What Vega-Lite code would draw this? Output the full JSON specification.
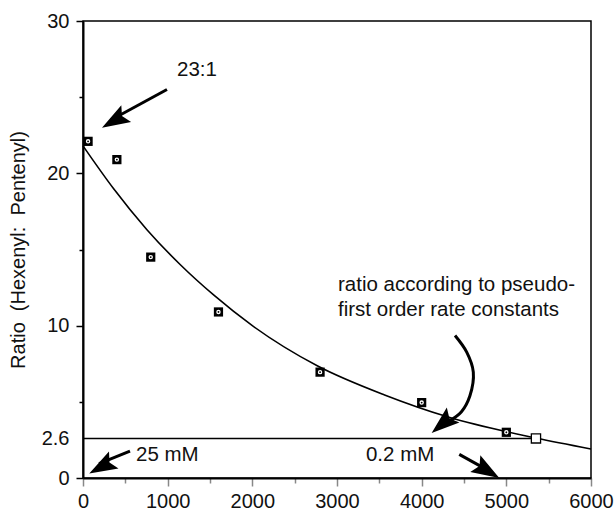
{
  "$schema": "https://vega.github.io/schema/vega-lite/v6.json",
  "width": 508,
  "height": 457,
  "autosize": {"type": "none"},
  "padding": {"left": 83, "top": 21, "right": 24, "bottom": 33},
  "background": "white",
  "config": {
    "font": "Liberation Sans",
    "view": {"stroke": "black", "strokeWidth": 1.5},
    "axis": {
      "domainColor": "black",
      "domainWidth": 2,
      "tickWidth": 1.5,
      "labelFont": "Liberation Sans",
      "labelFontSize": 20,
      "labelColor": "#111",
      "titleFont": "Liberation Sans",
      "titleFontSize": 20,
      "titleFontWeight": "normal",
      "titleColor": "#111",
      "grid": false
    }
  },
  "datasets": {
    "curve": [
      {"conc": 0, "ratio": 21.8},
      {"conc": 360, "ratio": 19.0},
      {"conc": 755, "ratio": 16.3},
      {"conc": 1150, "ratio": 14.0},
      {"conc": 1546, "ratio": 12.0},
      {"conc": 2000, "ratio": 10.0},
      {"conc": 2772, "ratio": 7.35},
      {"conc": 3562, "ratio": 5.45},
      {"conc": 4314, "ratio": 4.0},
      {"conc": 5350, "ratio": 2.62},
      {"conc": 6000, "ratio": 1.9}
    ],
    "measured": [
      {"conc": 60, "ratio": 22.1},
      {"conc": 400, "ratio": 20.9},
      {"conc": 800, "ratio": 14.5},
      {"conc": 1600, "ratio": 10.9},
      {"conc": 2800, "ratio": 6.95},
      {"conc": 4000, "ratio": 4.95},
      {"conc": 5000, "ratio": 3.0}
    ],
    "pseudo": [{"conc": 5350, "ratio": 2.6}],
    "hline": [{"conc": 0, "conc2": 5350, "ratio": 2.6}],
    "arrows": [
      {"name": "23:1", "x1": 992, "y1": 25.5, "x2": 330, "y2": 23.5},
      {"name": "25 mM", "x1": 555, "y1": 1.77, "x2": 190, "y2": 0.95},
      {"name": "0.2 mM", "x1": 4444, "y1": 1.55, "x2": 4800, "y2": 0.45}
    ],
    "curved": [
      {"i": 0, "conc": 4394, "ratio": 9.35},
      {"i": 1, "conc": 4532, "ratio": 8.26},
      {"i": 2, "conc": 4610, "ratio": 6.95},
      {"i": 3, "conc": 4570, "ratio": 5.4},
      {"i": 4, "conc": 4470, "ratio": 4.35},
      {"i": 5, "conc": 4330, "ratio": 3.75}
    ],
    "labels": [
      {"conc": 1346, "ratio": 26.8, "text": "23:1"},
      {"conc": 626, "ratio": 1.5, "text": "25 mM"},
      {"conc": 3342, "ratio": 1.5, "text": "0.2 mM"},
      {"conc": 3012, "ratio": 12.7, "text": "ratio according to pseudo-"},
      {"conc": 3012, "ratio": 11.0, "text": "first order rate constants"}
    ]
  },
  "layer": [
    {
      "data": {"name": "curve"},
      "mark": {"type": "line", "interpolate": "monotone", "color": "black", "strokeWidth": 1.6},
      "encoding": {
        "x": {
          "field": "conc", "type": "quantitative",
          "scale": {"domain": [0, 6000], "nice": false, "zero": false},
          "axis": {
            "title": null,
            "values": [0, 500, 1000, 1500, 2000, 2500, 3000, 3500, 4000, 4500, 5000, 5500, 6000],
            "labelExpr": "datum.value % 1000 == 0 ? datum.label : ''",
            "format": "d",
            "tickSize": {"condition": {"test": "datum.value % 1000 == 500", "value": 5}, "value": 8},
            "labelPadding": 5,
            "labelFlush": false
          }
        },
        "y": {
          "field": "ratio", "type": "quantitative",
          "scale": {"domain": [0, 30], "nice": false, "zero": false},
          "axis": {
            "title": "Ratio\u00a0 (Hexenyl:\u00a0 Pentenyl)",
            "values": [0, 2.6, 5, 10, 15, 20, 25, 30],
            "format": ".1~f",
            "labelExpr": "(datum.value == 5 || datum.value == 15 || datum.value == 25) ? '' : datum.label",
            "tickSize": {"condition": {"test": "datum.value == 5 || datum.value == 15 || datum.value == 25", "value": 4}, "value": 7},
            "tickColor": {"condition": {"test": "datum.value == 2.6", "value": "transparent"}, "value": "black"},
            "labelPadding": 7,
            "titlePadding": 13,
            "labelFlush": false
          }
        }
      }
    },
    {
      "data": {"name": "hline"},
      "mark": {"type": "rule", "color": "black", "strokeWidth": 1.5},
      "encoding": {
        "x": {"field": "conc", "type": "quantitative"},
        "x2": {"field": "conc2"},
        "y": {"field": "ratio", "type": "quantitative"}
      }
    },
    {
      "data": {"name": "measured"},
      "mark": {"type": "point", "shape": "square", "filled": true, "color": "black", "opacity": 1, "size": 85},
      "encoding": {
        "x": {"field": "conc", "type": "quantitative"},
        "y": {"field": "ratio", "type": "quantitative"}
      }
    },
    {
      "data": {"name": "measured"},
      "mark": {"type": "point", "shape": "circle", "filled": false, "color": "white", "strokeWidth": 1.3, "opacity": 1, "size": 10},
      "encoding": {
        "x": {"field": "conc", "type": "quantitative"},
        "y": {"field": "ratio", "type": "quantitative"}
      }
    },
    {
      "data": {"name": "pseudo"},
      "mark": {"type": "point", "shape": "square", "filled": true, "fill": "white", "stroke": "black", "strokeWidth": 1.3, "opacity": 1, "size": 85},
      "encoding": {
        "x": {"field": "conc", "type": "quantitative"},
        "y": {"field": "ratio", "type": "quantitative"}
      }
    },
    {
      "data": {"name": "arrows"},
      "mark": {"type": "rule", "color": "black", "strokeWidth": 3},
      "encoding": {
        "x": {"field": "x1", "type": "quantitative"},
        "y": {"field": "y1", "type": "quantitative"},
        "x2": {"field": "x2"},
        "y2": {"field": "y2"}
      }
    },
    {
      "data": {"name": "curved"},
      "mark": {"type": "line", "interpolate": "catmull-rom", "color": "black", "strokeWidth": 3},
      "encoding": {
        "x": {"field": "conc", "type": "quantitative"},
        "y": {"field": "ratio", "type": "quantitative"},
        "order": {"field": "i", "type": "quantitative"}
      }
    },
    {
      "data": {"values": [{"conc": 224, "ratio": 23.0}]},
      "mark": {"type": "point", "shape": "M0,0L-0.7,2L0,1.65L0.7,2Z", "filled": true, "color": "black", "opacity": 1, "size": 784, "angle": 240},
      "encoding": {
        "x": {"field": "conc", "type": "quantitative"},
        "y": {"field": "ratio", "type": "quantitative"}
      }
    },
    {
      "data": {"values": [{"conc": 74, "ratio": 0.29}]},
      "mark": {"type": "point", "shape": "M0,0L-0.7,2L0,1.65L0.7,2Z", "filled": true, "color": "black", "opacity": 1, "size": 784, "angle": 241},
      "encoding": {
        "x": {"field": "conc", "type": "quantitative"},
        "y": {"field": "ratio", "type": "quantitative"}
      }
    },
    {
      "data": {"values": [{"conc": 4917, "ratio": 0.0}]},
      "mark": {"type": "point", "shape": "M0,0L-0.7,2L0,1.65L0.7,2Z", "filled": true, "color": "black", "opacity": 1, "size": 784, "angle": 121},
      "encoding": {
        "x": {"field": "conc", "type": "quantitative"},
        "y": {"field": "ratio", "type": "quantitative"}
      }
    },
    {
      "data": {"values": [{"conc": 4118, "ratio": 2.95}]},
      "mark": {"type": "point", "shape": "M0,0L-0.7,2L0,1.65L0.7,2Z", "filled": true, "color": "black", "opacity": 1, "size": 784, "angle": 230},
      "encoding": {
        "x": {"field": "conc", "type": "quantitative"},
        "y": {"field": "ratio", "type": "quantitative"}
      }
    },
    {
      "data": {"name": "labels"},
      "transform": [{"filter": "datum.text == '23:1'"}],
      "mark": {"type": "text", "fontSize": 20.5, "color": "#111", "baseline": "middle", "align": "center"},
      "encoding": {
        "x": {"field": "conc", "type": "quantitative"},
        "y": {"field": "ratio", "type": "quantitative"},
        "text": {"field": "text"}
      }
    },
    {
      "data": {"name": "labels"},
      "transform": [{"filter": "datum.text != '23:1'"}],
      "mark": {"type": "text", "fontSize": 20.5, "color": "#111", "baseline": "middle", "align": "left"},
      "encoding": {
        "x": {"field": "conc", "type": "quantitative"},
        "y": {"field": "ratio", "type": "quantitative"},
        "text": {"field": "text"}
      }
    }
  ]
}
